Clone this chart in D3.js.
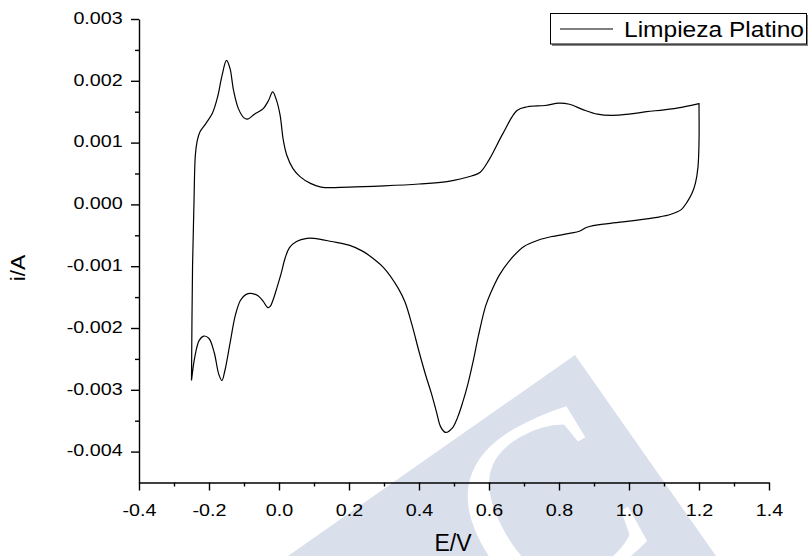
<!DOCTYPE html>
<html>
<head>
<meta charset="utf-8">
<script src="https://cdn.jsdelivr.net/npm/d3@7"></script>
<style>
  body { margin: 0; background: #fff; }
  svg { display: block; font-family: "Liberation Sans", Arial, sans-serif; }
</style>
</head>
<body>
<div id="graph-container"></div>
<script>
const width = 812;
const height = 556;
const marginTop = 19;
const marginRight = 43;
const marginBottom = 73.5;
const marginLeft = 139;

// Anodic sweep: potential (V) and current (A)
const anodicE = [-0.250, -0.247, -0.243, -0.239, -0.234, -0.226, -0.210, -0.190, -0.175, -0.163,
  -0.150, -0.140, -0.130, -0.116, -0.100, -0.090, -0.070, -0.045, -0.030, -0.018,
  -0.008, 0.003, 0.012, 0.022, 0.040, 0.060, 0.090, 0.120, 0.200, 0.300,
  0.400, 0.480, 0.550, 0.575, 0.600, 0.640, 0.680, 0.710, 0.760, 0.800,
  0.830, 0.870, 0.910, 0.950, 1.000, 1.050, 1.100, 1.150, 1.200];
const anodicI = [-0.00285, -0.00100, 0.00000, 0.00080, 0.00102, 0.00117, 0.00130, 0.00148, 0.00175, 0.00208,
  0.00233, 0.00220, 0.00185, 0.00155, 0.00140, 0.00138, 0.00146, 0.00155, 0.00168, 0.00182,
  0.00170, 0.00145, 0.00105, 0.00080, 0.00058, 0.00045, 0.00034, 0.00028, 0.00028, 0.00030,
  0.00033, 0.00037, 0.00046, 0.00052, 0.00072, 0.00115, 0.00152, 0.00158, 0.00160, 0.00164,
  0.00162, 0.00153, 0.00146, 0.00144, 0.00146, 0.00150, 0.00153, 0.00157, 0.00163];

// Cathodic sweep
const cathodicE = [1.200, 1.200, 1.197, 1.190, 1.180, 1.165, 1.150, 1.120, 1.080, 1.000,
  0.940, 0.880, 0.860, 0.830, 0.780, 0.740, 0.700, 0.660, 0.630, 0.605,
  0.590, 0.570, 0.555, 0.540, 0.525, 0.510, 0.495, 0.476, 0.462, 0.450,
  0.435, 0.420, 0.400, 0.380, 0.360, 0.340, 0.300, 0.270, 0.240, 0.200,
  0.150, 0.100, 0.080, 0.050, 0.030, 0.018, 0.006, -0.006, -0.016, -0.025,
  -0.032, -0.045, -0.060, -0.080, -0.095, -0.110, -0.125, -0.140, -0.155, -0.163,
  -0.172, -0.185, -0.200, -0.215, -0.228, -0.240, -0.250];
const cathodicI = [0.00163, 0.00100, 0.00060, 0.00035, 0.00018, 0.00003, -0.00008, -0.00016, -0.00021, -0.00027,
  -0.00031, -0.00037, -0.00043, -0.00047, -0.00052, -0.00058, -0.00068, -0.00090, -0.00114, -0.00143,
  -0.00165, -0.00212, -0.00253, -0.00290, -0.00320, -0.00345, -0.00362, -0.00369, -0.00360, -0.00336,
  -0.00305, -0.00278, -0.00238, -0.00195, -0.00158, -0.00135, -0.00103, -0.00088, -0.00076, -0.00066,
  -0.00060, -0.00055, -0.00055, -0.00060, -0.00070, -0.00086, -0.00112, -0.00135, -0.00153, -0.00165,
  -0.00167, -0.00157, -0.00148, -0.00144, -0.00146, -0.00155, -0.00180, -0.00225, -0.00270, -0.00285,
  -0.00275, -0.00240, -0.00217, -0.00213, -0.00220, -0.00245, -0.00285];

const xTicks = [-0.4, -0.2, 0.0, 0.2, 0.4, 0.6, 0.8, 1.0, 1.2, 1.4];
const xMinorTicks = [-0.3, -0.1, 0.1, 0.3, 0.5, 0.7, 0.9, 1.1, 1.3];
const yTicks = [-0.004, -0.003, -0.002, -0.001, 0.000, 0.001, 0.002, 0.003];
const yMinorTicks = [-0.0035, -0.0025, -0.0015, -0.0005, 0.0005, 0.0015, 0.0025];
const seriesName = "Limpieza Platino";

const body = d3.select("#graph-container");
const svg = body.append("svg")
    .attr("width", width)
    .attr("height", height)
    .attr("viewBox", [0, 0, width, height]);

const x = d3.scaleLinear()
    .domain([-0.4, 1.4])
    .range([marginLeft, width - marginRight]);

const y = d3.scaleLinear()
    .domain([-0.0045, 0.003])
    .range([height - marginBottom, marginTop]);

// Watermark in the background
const wmShape = "M575,355 L288,556 L716,556 Z";
const wm = svg.append("g");
wm.append("clipPath")
    .attr("id", "wm-clip")
    .append("path")
    .attr("d", wmShape);
wm.append("path")
    .attr("d", wmShape)
    .attr("fill", "#dadfec");
wm.append("g")
    .attr("clip-path", "url(#wm-clip)")
  .append("text")
    .attr("transform", "translate(547,508) rotate(-30)")
    .attr("text-anchor", "middle")
    .attr("y", 84)
    .attr("font-family", "'Liberation Serif', serif")
    .attr("font-size", 255)
    .attr("fill", "#fff")
    .text("C");

// Axes
svg.append("g")
    .attr("transform", `translate(0,${height - marginBottom})`)
    .call(d3.axisBottom(x).tickValues(xTicks).tickSize(8).tickSizeOuter(0)
        .tickFormat(d => d.toFixed(1)))
    .call(g => g.selectAll(".tick text")
        .attr("font-size", 17)
        .attr("font-family", null)
        .attr("y", 21)
        .attr("transform", "scale(1.16,1)"));
svg.append("g")
    .attr("transform", `translate(0,${height - marginBottom})`)
    .call(d3.axisBottom(x).tickValues(xMinorTicks).tickSize(4).tickFormat(""))
    .call(g => g.select(".domain").remove());

svg.append("g")
    .attr("transform", `translate(${marginLeft},0)`)
    .call(d3.axisLeft(y).tickValues(yTicks).tickSize(8).tickSizeOuter(0)
        .tickFormat(d => d.toFixed(3)))
    .call(g => g.selectAll(".tick text")
        .attr("font-size", 17)
        .attr("font-family", null)
        .attr("x", -16.3 / 1.16)
        .attr("dy", "0.25em")
        .attr("transform", "scale(1.16,1)"));
svg.append("g")
    .attr("transform", `translate(${marginLeft},0)`)
    .call(d3.axisLeft(y).tickValues(yMinorTicks).tickSize(4).tickFormat(""))
    .call(g => g.select(".domain").remove());

svg.selectAll(".domain, .tick line").attr("stroke-width", 1.4);

// Axis titles
svg.append("text")
    .attr("transform", "translate(453,551) scale(1,1.08)")
    .attr("text-anchor", "middle")
    .attr("font-size", 23)
    .text("E/V");

svg.append("text")
    .attr("transform", "translate(25,268) rotate(-90) scale(1.09,1)")
    .attr("text-anchor", "middle")
    .attr("font-size", 21)
    .text("i/A");

// The voltammogram
const points = anodicE.map((e, k) => [e, anodicI[k]])
    .concat(cathodicE.map((e, k) => [e, cathodicI[k]]));

const line = d3.line()
    .x(d => x(d[0]))
    .y(d => y(d[1]))
    .curve(d3.curveCatmullRom.alpha(0.5));

svg.append("path")
    .datum(points)
    .attr("fill", "none")
    .attr("stroke", "#000")
    .attr("stroke-width", 1.2)
    .attr("d", line);

// Legend
const legend = svg.append("g");
legend.append("rect")
    .attr("x", 552).attr("y", 15)
    .attr("width", 256).attr("height", 31)
    .attr("fill", "#888");
legend.append("rect")
    .attr("x", 550.5).attr("y", 13.5)
    .attr("width", 256).attr("height", 30.5)
    .attr("fill", "#fff")
    .attr("stroke", "#000")
    .attr("stroke-width", 1);
legend.append("line")
    .attr("x1", 560).attr("x2", 613)
    .attr("y1", 29).attr("y2", 29)
    .attr("stroke", "#000")
    .attr("stroke-width", 1.2);
legend.append("text")
    .attr("x", 624).attr("y", 37.3)
    .attr("font-size", 22)
    .attr("textLength", 180)
    .attr("lengthAdjust", "spacingAndGlyphs")
    .text(seriesName);
</script>
</body>
</html>
